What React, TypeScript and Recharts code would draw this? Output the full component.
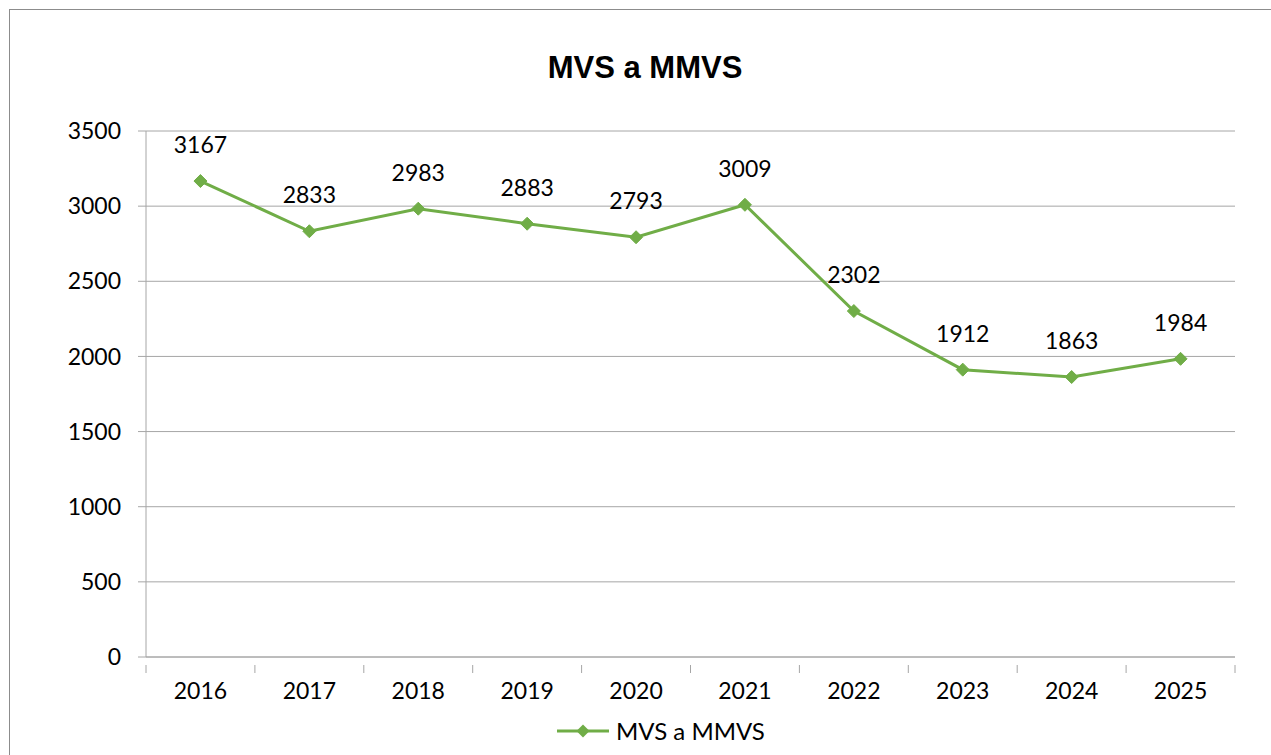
import React from 'react';
import {
  LineChart,
  Line,
  XAxis,
  YAxis,
  CartesianGrid,
  Legend,
  LabelList,
} from 'recharts';

const years = ['2016', '2017', '2018', '2019', '2020', '2021', '2022', '2023', '2024', '2025'];
const mvsValues = [3167, 2833, 2983, 2883, 2793, 3009, 2302, 1912, 1863, 1984];
const yTicks = [0, 500, 1000, 1500, 2000, 2500, 3000, 3500];

const SERIES = 'MVS a MMVS';
const GREEN = '#70AD47';
const GRID = '#A6A6A6';
const FONT = 'Lato, "Open Sans", sans-serif';

const W = 1271;
const H = 755;
const PLOT_LEFT = 146;
const PLOT_RIGHT = 1235;
const BAND = (PLOT_RIGHT - PLOT_LEFT) / years.length;

const data = years.map((year, i) => ({ year, [SERIES]: mvsValues[i] }));

const Diamond = (props: any) => {
  const { cx, cy } = props;
  if (cx == null || cy == null) return null;
  const r = 6.5;
  return (
    <polygon
      points={`${cx},${cy - r} ${cx + r},${cy} ${cx},${cy + r} ${cx - r},${cy}`}
      fill={GREEN}
      stroke={GREEN}
    />
  );
};

const XTick = (props: any) => {
  const { x, y, payload, index } = props;
  const last = index === years.length - 1;
  return (
    <g>
      <line x1={x - BAND / 2} y1={y} x2={x - BAND / 2} y2={y + 8} stroke={GRID} />
      {last && <line x1={x + BAND / 2} y1={y} x2={x + BAND / 2} y2={y + 8} stroke={GRID} />}
      <text x={x} y={y + 34} textAnchor="middle" fontSize={23} fill="#000" fontFamily={FONT}>
        {payload.value}
      </text>
    </g>
  );
};

const LegendContent = () => (
  <div style={{ display: 'flex', alignItems: 'center', fontFamily: FONT, fontSize: 24 }}>
    <svg width={56} height={16}>
      <line x1={2} y1={8} x2={54} y2={8} stroke={GREEN} strokeWidth={3} />
      <polygon points="28,1.5 34.5,8 28,14.5 21.5,8" fill={GREEN} />
    </svg>
    <span style={{ marginLeft: 5, color: '#000' }}>{SERIES}</span>
  </div>
);

export default function App() {
  return (
    <div style={{ position: 'absolute', left: 0, top: 0, width: W, height: H, background: '#fff' }}>
      <div
        style={{
          position: 'absolute',
          left: 9,
          top: 9,
          width: W,
          height: H,
          borderLeft: '1px solid #8c8c8c',
          borderTop: '1px solid #8c8c8c',
        }}
      />
      <div
        style={{
          position: 'absolute',
          left: 0,
          width: 1290,
          top: 50,
          textAlign: 'center',
          fontFamily: '"Liberation Sans", Arial, sans-serif',
          fontWeight: 'bold',
          fontSize: 31,
          color: '#000',
        }}
      >
        MVS a MMVS
      </div>
      <LineChart
        width={W}
        height={H}
        data={data}
        margin={{ top: 131, right: W - PLOT_RIGHT, left: PLOT_LEFT - 70, bottom: 29 }}
        style={{ position: 'absolute', left: 0, top: 0 }}
      >
        <CartesianGrid vertical={false} stroke={GRID} strokeWidth={1} />
        <XAxis
          dataKey="year"
          axisLine={{ stroke: GRID }}
          tickLine={false}
          tick={<XTick />}
          height={40}
          interval={0}
          padding={{ left: BAND / 2, right: BAND / 2 }}
        />
        <YAxis
          domain={[0, 3500]}
          ticks={yTicks}
          width={70}
          axisLine={{ stroke: GRID }}
          tickLine={{ stroke: GRID }}
          tickSize={8}
          tickMargin={17}
          tick={{ fontSize: 23, fill: '#000', fontFamily: FONT }}
        />
        <Legend
          content={<LegendContent />}
          wrapperStyle={{ position: 'absolute', left: 555, top: 716, width: 260 }}
        />
        <Line
          dataKey={SERIES}
          stroke={GREEN}
          strokeWidth={3}
          dot={<Diamond />}
          activeDot={false}
          isAnimationActive={false}
        >
          <LabelList
            dataKey={SERIES}
            position="top"
            offset={28}
            fontSize={23}
            fill="#000"
            fontFamily={FONT}
          />
        </Line>
      </LineChart>
    </div>
  );
}
